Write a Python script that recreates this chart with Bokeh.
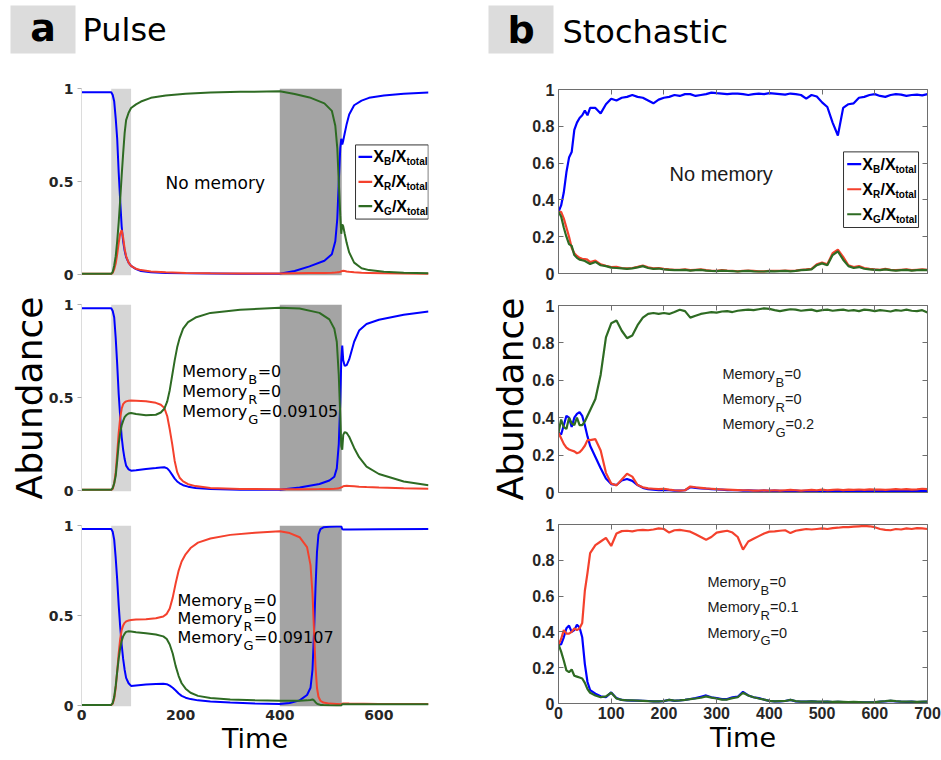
import math
from bokeh.plotting import figure
from bokeh.layouts import column, row
from bokeh.models import Range1d, FixedTicker, NumeralTickFormatter, CustomJSTickFormatter, LinearAxis
from bokeh.core.properties import value
from bokeh.embed import file_html
from bokeh.resources import INLINE

BLUE = "#0000ff"
RED = "#f4412d"
GREEN = "#2e6b23"
LIGHT_BAND = "#d6d6d6"
DARK_BAND = "#a4a4a4"
FRAME = "#6e6e6e"
TICKTXT = "#262626"

# ---------------- data: panel a (Pulse, deterministic) ----------------
pulse_light = [60, 100]
pulse_dark = [400, 525]

a1_t = [0, 60, 63, 66, 69, 72, 75, 78, 81, 84, 87, 90, 95, 100, 110, 120, 140, 170, 210, 260, 320, 400,
        430, 460, 490, 505, 512, 516, 519, 522, 524, 526, 528, 531, 535, 540, 550, 565, 580, 610, 650, 700]
a1_blue = [0.98, 0.98, 0.965, 0.93, 0.84, 0.73, 0.55, 0.40, 0.26, 0.18, 0.13, 0.095, 0.065, 0.048, 0.03, 0.02,
           0.013, 0.01, 0.008, 0.007, 0.006, 0.006, 0.02, 0.045, 0.075, 0.11, 0.18, 0.30, 0.50, 0.68, 0.73,
           0.70, 0.72, 0.76, 0.81, 0.86, 0.91, 0.935, 0.95, 0.962, 0.972, 0.978]
a1_red = [0.005, 0.005, 0.01, 0.03, 0.06, 0.11, 0.17, 0.22, 0.24, 0.20, 0.14, 0.10, 0.065, 0.048, 0.032, 0.025,
          0.018, 0.013, 0.01, 0.008, 0.007, 0.007, 0.008, 0.009, 0.01, 0.011, 0.012, 0.013, 0.014, 0.016, 0.018,
          0.02, 0.021, 0.02, 0.018, 0.016, 0.013, 0.011, 0.01, 0.008, 0.007, 0.006]
a1_green = [0.005, 0.005, 0.015, 0.05, 0.10, 0.18, 0.28, 0.40, 0.53, 0.65, 0.76, 0.83, 0.87, 0.895, 0.915, 0.93,
            0.95, 0.963, 0.972, 0.978, 0.982, 0.985, 0.97, 0.952, 0.92, 0.88, 0.80, 0.68, 0.50, 0.32, 0.22,
            0.27, 0.26, 0.22, 0.17, 0.12, 0.065, 0.035, 0.025, 0.016, 0.011, 0.008]

a2_t = [0, 60, 63, 66, 69, 72, 75, 78, 81, 84, 87, 90, 95, 100, 110, 130, 150, 160, 167, 173, 178, 183, 188,
        193, 198, 205, 215, 230, 260, 320, 400, 440, 480, 500, 510, 515, 519, 522, 524, 526, 528, 531, 535,
        540, 550, 560, 575, 600, 650, 700]
a2_blue = [0.98, 0.98, 0.965, 0.93, 0.82, 0.68, 0.52, 0.40, 0.29, 0.22, 0.17, 0.135, 0.115, 0.108, 0.11, 0.117,
           0.122, 0.125, 0.126, 0.12, 0.105, 0.085, 0.065, 0.05, 0.04, 0.03, 0.022, 0.015, 0.01, 0.006, 0.005,
           0.018, 0.036, 0.055, 0.075, 0.12, 0.25, 0.48, 0.70, 0.78, 0.70, 0.67, 0.675, 0.705, 0.80, 0.86,
           0.895, 0.918, 0.945, 0.962]
a2_red = [0.005, 0.005, 0.01, 0.04, 0.10, 0.20, 0.31, 0.39, 0.44, 0.465, 0.475, 0.48, 0.483, 0.484, 0.483, 0.48,
          0.472, 0.462, 0.445, 0.40, 0.33, 0.25, 0.16, 0.10, 0.07, 0.05, 0.035, 0.025, 0.015, 0.01, 0.008,
          0.008, 0.009, 0.01, 0.011, 0.012, 0.014, 0.016, 0.018, 0.02, 0.024, 0.026, 0.027, 0.026, 0.024,
          0.022, 0.02, 0.017, 0.013, 0.011]
a2_green = [0.005, 0.005, 0.015, 0.04, 0.08, 0.16, 0.25, 0.31, 0.35, 0.375, 0.395, 0.405, 0.415, 0.418, 0.412,
            0.405, 0.408, 0.42, 0.44, 0.48, 0.54, 0.62, 0.70, 0.77, 0.82, 0.87, 0.905, 0.93, 0.955, 0.972,
            0.982, 0.978, 0.955, 0.92, 0.87, 0.80, 0.62, 0.40, 0.24, 0.22, 0.30, 0.315, 0.31, 0.29, 0.23,
            0.18, 0.13, 0.09, 0.05, 0.03]

a3_t = [0, 60, 63, 66, 69, 72, 75, 78, 81, 84, 87, 90, 95, 100, 110, 130, 150, 165, 172, 178, 184, 190, 196,
        202, 210, 220, 235, 260, 300, 350, 400, 420, 440, 455, 462, 466, 469, 472, 475, 478, 482, 488, 500,
        515, 524, 526, 528, 531, 540, 600, 700]
a3_blue = [0.98, 0.98, 0.965, 0.92, 0.82, 0.70, 0.56, 0.44, 0.34, 0.26, 0.20, 0.155, 0.125, 0.11,
           0.113, 0.118, 0.121, 0.122, 0.12, 0.112, 0.10, 0.085, 0.068, 0.055,
           0.045, 0.037, 0.03, 0.024, 0.018, 0.013, 0.01, 0.015, 0.03, 0.06,
           0.10, 0.20, 0.40, 0.65, 0.85, 0.95, 0.98, 0.99, 0.993, 0.995,
           0.995, 0.98, 0.978, 0.978, 0.978, 0.979, 0.98]
a3_red = [0.005, 0.005, 0.012, 0.04, 0.10, 0.19, 0.29, 0.37, 0.42, 0.445, 0.46, 0.468, 0.473, 0.476,
          0.478, 0.48, 0.485, 0.495, 0.51, 0.54, 0.60, 0.68, 0.75, 0.80,
          0.84, 0.875, 0.905, 0.928, 0.948, 0.96, 0.968, 0.958, 0.935, 0.88,
          0.78, 0.62, 0.42, 0.22, 0.10, 0.05, 0.028, 0.018, 0.012, 0.01,
          0.008, 0.012, 0.013, 0.013, 0.012, 0.01, 0.01]
a3_green = [0.005, 0.005, 0.015, 0.05, 0.11, 0.19, 0.26, 0.32, 0.36, 0.385, 0.40, 0.41, 0.413, 0.412,
            0.408, 0.402, 0.395, 0.385, 0.37, 0.34, 0.29, 0.22, 0.165, 0.125,
            0.095, 0.072, 0.055, 0.043, 0.035, 0.03, 0.028, 0.028, 0.028, 0.03,
            0.032, 0.035, 0.03, 0.02, 0.012, 0.008, 0.005, 0.004, 0.003, 0.002,
            0.002, 0.008, 0.009, 0.009, 0.009, 0.008, 0.008]

# ---------------- data: panel b (Stochastic) ----------------
b_t = list(range(0, 60, 5)) + list(range(60, 701, 10))

b1_blue = [0.335, 0.37, 0.44, 0.55, 0.63, 0.66, 0.78, 0.82, 0.845, 0.86, 0.885, 0.86,
           0.90, 0.90, 0.87, 0.92, 0.95,
           0.94, 0.955, 0.96, 0.97, 0.96, 0.955, 0.94, 0.925, 0.945, 0.955,
           0.96, 0.97, 0.965, 0.975, 0.975, 0.965, 0.97, 0.975, 0.983, 0.98,
           0.978, 0.975, 0.978, 0.978, 0.975, 0.97, 0.975, 0.978, 0.975, 0.98,
           0.978, 0.975, 0.972, 0.978, 0.975, 0.97, 0.95, 0.97, 0.962, 0.93,
           0.905, 0.82, 0.75, 0.90, 0.92, 0.925, 0.955, 0.96, 0.97, 0.975,
           0.965, 0.96, 0.97, 0.975, 0.972, 0.965, 0.97, 0.972, 0.968, 0.975]
b1_red = [0.335, 0.335, 0.30, 0.25, 0.20, 0.14, 0.11, 0.095, 0.085, 0.08, 0.078, 0.075,
          0.062, 0.07, 0.05, 0.042, 0.035,
          0.036, 0.03, 0.028, 0.03, 0.036, 0.043, 0.034, 0.028, 0.03, 0.025,
          0.022, 0.02, 0.02, 0.022, 0.018, 0.02, 0.022, 0.018, 0.015, 0.015,
          0.018, 0.016, 0.015, 0.012, 0.015, 0.016, 0.014, 0.012, 0.012, 0.015,
          0.014, 0.015, 0.016, 0.014, 0.016, 0.02, 0.022, 0.025, 0.05, 0.06,
          0.05, 0.11, 0.13, 0.09, 0.045, 0.035, 0.04, 0.03, 0.025, 0.022,
          0.02, 0.025, 0.02, 0.018, 0.02, 0.022, 0.018, 0.02, 0.022, 0.02]
b1_green = [0.335, 0.31, 0.25, 0.20, 0.16, 0.15, 0.10, 0.085, 0.075, 0.072, 0.068, 0.06,
            0.052, 0.063, 0.045, 0.04, 0.032,
            0.03, 0.028, 0.025, 0.028, 0.033, 0.04, 0.03, 0.025, 0.027, 0.022,
            0.02, 0.018, 0.018, 0.02, 0.016, 0.018, 0.02, 0.016, 0.014, 0.013,
            0.016, 0.014, 0.013, 0.011, 0.013, 0.014, 0.012, 0.011, 0.011, 0.013,
            0.012, 0.013, 0.014, 0.012, 0.014, 0.018, 0.02, 0.022, 0.045, 0.055,
            0.045, 0.10, 0.12, 0.075, 0.04, 0.03, 0.035, 0.026, 0.022, 0.02,
            0.018, 0.022, 0.018, 0.016, 0.018, 0.02, 0.016, 0.018, 0.02, 0.018]

b2_blue = [0.32, 0.31, 0.36, 0.41, 0.40, 0.35, 0.40, 0.42, 0.43, 0.41, 0.36, 0.30,
           0.25, 0.19, 0.13, 0.075, 0.045,
           0.04, 0.064, 0.072, 0.062, 0.04, 0.025, 0.018, 0.015, 0.013, 0.012,
           0.012, 0.01, 0.01, 0.012, 0.028, 0.025, 0.022, 0.02, 0.018, 0.016,
           0.015, 0.013, 0.012, 0.012, 0.01, 0.011, 0.01, 0.009, 0.01, 0.009,
           0.01, 0.009, 0.008, 0.009, 0.01, 0.008, 0.009, 0.008, 0.007, 0.008,
           0.009, 0.008, 0.007, 0.008, 0.009, 0.008, 0.007, 0.008, 0.009, 0.008,
           0.007, 0.008, 0.009, 0.008, 0.007, 0.008, 0.009, 0.01, 0.008, 0.009]
b2_red = [0.32, 0.29, 0.26, 0.24, 0.23, 0.225, 0.22, 0.21, 0.215, 0.23, 0.25, 0.28,
          0.28, 0.285, 0.225, 0.105, 0.048,
          0.038, 0.07, 0.10, 0.085, 0.04, 0.028, 0.022, 0.02, 0.018, 0.02,
          0.015, 0.012, 0.01, 0.012, 0.032, 0.028, 0.025, 0.022, 0.02, 0.018,
          0.016, 0.015, 0.014, 0.013, 0.012, 0.012, 0.01, 0.01, 0.012, 0.01,
          0.012, 0.01, 0.012, 0.014, 0.012, 0.01, 0.012, 0.014, 0.012, 0.015,
          0.012, 0.014, 0.016, 0.013, 0.015, 0.014, 0.016, 0.014, 0.017, 0.015,
          0.016, 0.014, 0.016, 0.018, 0.016, 0.018, 0.015, 0.017, 0.02, 0.018]
b2_green = [0.32, 0.39, 0.35, 0.34, 0.40, 0.37, 0.36, 0.40, 0.36, 0.36, 0.38, 0.41,
            0.44, 0.50, 0.63, 0.83, 0.905,
            0.92, 0.865, 0.825, 0.84, 0.895, 0.935, 0.955, 0.96, 0.955, 0.96,
            0.955, 0.965, 0.977, 0.97, 0.935, 0.945, 0.955, 0.96, 0.965, 0.962,
            0.968, 0.97, 0.965, 0.972, 0.975, 0.978, 0.975, 0.98, 0.985, 0.982,
            0.975, 0.97, 0.975, 0.98, 0.978, 0.972, 0.975, 0.978, 0.97, 0.975,
            0.978, 0.972, 0.975, 0.978, 0.972, 0.975, 0.97, 0.978, 0.975, 0.97,
            0.975, 0.972, 0.968, 0.975, 0.972, 0.978, 0.972, 0.97, 0.975, 0.962]

b3_blue = [0.33, 0.33, 0.37, 0.42, 0.435, 0.40, 0.41, 0.44, 0.425, 0.37, 0.22, 0.12,
           0.075, 0.055, 0.04, 0.035, 0.062,
           0.03, 0.02, 0.018, 0.016, 0.016, 0.015, 0.014, 0.012, 0.012, 0.013,
           0.02, 0.015, 0.017, 0.02, 0.025, 0.03, 0.038, 0.045, 0.035, 0.03,
           0.025, 0.025, 0.035, 0.038, 0.065, 0.045, 0.035, 0.03, 0.022, 0.015,
           0.012, 0.012, 0.014, 0.02, 0.012, 0.01, 0.01, 0.012, 0.01, 0.009,
           0.01, 0.008, 0.009, 0.008, 0.007, 0.008, 0.007, 0.006, 0.006, 0.007,
           0.01, 0.012, 0.015, 0.012, 0.01, 0.009, 0.01, 0.008, 0.009, 0.01]
b3_red = [0.33, 0.36, 0.41, 0.39, 0.39, 0.40, 0.42, 0.41, 0.42, 0.45, 0.63, 0.73,
          0.84, 0.885, 0.905, 0.925, 0.88,
          0.95, 0.963, 0.965, 0.962, 0.968, 0.97, 0.968, 0.972, 0.978, 0.975,
          0.955, 0.968, 0.97, 0.965, 0.96, 0.945, 0.93, 0.915, 0.93, 0.955,
          0.96, 0.965, 0.955, 0.93, 0.86, 0.905, 0.92, 0.935, 0.95, 0.96,
          0.962, 0.965, 0.968, 0.952, 0.965, 0.97, 0.975, 0.972, 0.975, 0.978,
          0.975, 0.98, 0.982, 0.985, 0.985, 0.988, 0.99, 0.992, 0.99, 0.985,
          0.975, 0.97, 0.968, 0.975, 0.972, 0.978, 0.975, 0.98, 0.978, 0.975]
b3_green = [0.33, 0.29, 0.24, 0.185, 0.175, 0.19, 0.155, 0.15, 0.145, 0.14, 0.115, 0.08,
            0.06, 0.045, 0.035, 0.04, 0.06,
            0.028, 0.02, 0.018, 0.017, 0.016, 0.015, 0.013, 0.012, 0.012, 0.014,
            0.02, 0.016, 0.017, 0.02, 0.024, 0.028, 0.032, 0.04, 0.033, 0.028,
            0.022, 0.022, 0.03, 0.035, 0.06, 0.045, 0.035, 0.028, 0.022, 0.015,
            0.012, 0.013, 0.014, 0.02, 0.013, 0.011, 0.01, 0.012, 0.01, 0.01,
            0.01, 0.009, 0.01, 0.009, 0.008, 0.009, 0.008, 0.007, 0.007, 0.008,
            0.011, 0.013, 0.016, 0.013, 0.011, 0.01, 0.011, 0.009, 0.01, 0.011]

for t, *ss in [(a1_t, a1_blue, a1_red, a1_green), (a2_t, a2_blue, a2_red, a2_green),
               (a3_t, a3_blue, a3_red, a3_green), (b_t, b1_blue, b1_red, b1_green),
               (b_t, b2_blue, b2_red, b2_green), (b_t, b3_blue, b3_red, b3_green)]:
    for s in ss:
        assert len(s) == len(t), (len(s), len(t))

y_ticks_a = [0, 0.5, 1]
x_ticks_a = [0, 200, 400, 600]
y_ticks_b = [0, 0.2, 0.4, 0.6, 0.8, 1]
x_ticks_b = [0, 100, 200, 300, 400, 500, 600, 700]


def base_fig(width, height, left, right, top, bottom, y0=0.0):
    p = figure(width=width, height=height, x_range=Range1d(0, 700), y_range=Range1d(y0, 1),
               output_backend="svg", toolbar_location=None,
               min_border_left=left, min_border_right=right, min_border_top=top,
               min_border_bottom=bottom, background_fill_color="white",
               border_fill_color="white", outline_line_color=None)
    p.xgrid.visible = False
    p.ygrid.visible = False
    return p


def put(p, x, y, s, font, size, dx=0, dy=0, style="normal", color="black", align="left"):
    p.text(x=[x], y=[y], text=[s], x_offset=dx, y_offset=dy, text_font=value(font),
           text_font_size=value(size), text_font_style=style, text_color=color,
           text_align=align, text_baseline="middle")


def legend_box(p, box, line_x, rows_y, text_x, font):
    l, r, b, t = box
    p.quad(left=[l], right=[r], bottom=[b], top=[t], fill_color="white",
           line_color="#333333", line_width=1)
    cols = [BLUE, RED, GREEN]
    subs = ["B", "R", "G"]
    for yy, c, sb in zip(rows_y, cols, subs):
        p.segment(x0=[line_x[0]], y0=[yy], x1=[line_x[1]], y1=[yy], line_color=c, line_width=2.2)
        w = 8 if sb == "G" else 7.5
        put(p, text_x, yy, "X", font, "16px", 0, 0, "bold")
        put(p, text_x, yy, sb, font, "10px", 10.7, 5, "bold")
        put(p, text_x, yy, "/X", font, "16px", 10.7 + w, 0, "bold")
        put(p, text_x, yy, "total", font, "10px", 10.7 + w + 15, 5, "bold")


def memory_text(p, x, ys, vals, font, size, sub_size, sub_dx, eq_dx, sub_dy, color):
    for yy, (sb, v), edx in zip(ys, zip(["B", "R", "G"], vals), eq_dx):
        put(p, x, yy, "Memory", font, size, 0, 0, "normal", color)
        put(p, x, yy, sb, font, sub_size, sub_dx, sub_dy, "normal", color)
        put(p, x, yy, "=" + v, font, size, edx, 0, "normal", color)


def set_ylabel(ax, standoff):
    ax.axis_label = "Abundance"
    ax.axis_label_standoff = standoff
    ax.axis_label_text_font = "DejaVu Sans"
    ax.axis_label_text_font_style = "normal"
    ax.axis_label_text_font_size = "36px"
    ax.axis_label_text_color = "black"


# ---------------- left column (a) ----------------
def left_panel(height, top, bottom, t, b, r, g, show_x, ylabel=False):
    y0 = -0.004
    p = base_fig(470, height, 81, 42, top, bottom, y0=y0)
    p.quad(left=[pulse_light[0]], right=[pulse_light[1]], bottom=[y0], top=[1],
           fill_color=LIGHT_BAND, line_color=None)
    p.quad(left=[pulse_dark[0]], right=[pulse_dark[1]], bottom=[y0], top=[1],
           fill_color=DARK_BAND, line_color=None)
    p.line(t, b, line_color=BLUE, line_width=2)
    p.line(t, r, line_color=RED, line_width=2)
    p.line(t, g, line_color=GREEN, line_width=2)
    ya = p.yaxis[0]
    ya.ticker = FixedTicker(ticks=y_ticks_a)
    ya.formatter = NumeralTickFormatter(format="0.[0]")
    ya.axis_line_color = "#dcdcdc"
    ya.major_tick_line_color = "#b0b0b0"
    ya.major_tick_out = 4
    ya.major_tick_in = 0
    ya.minor_tick_line_color = None
    ya.major_label_standoff = 4
    ya.major_label_text_font = "DejaVu Sans"
    ya.major_label_text_font_style = "bold"
    ya.major_label_text_font_size = "14px"
    ya.major_label_text_color = TICKTXT
    if ylabel:
        set_ylabel(ya, -4)
    xa = p.xaxis[0]
    if show_x:
        xa.ticker = FixedTicker(ticks=x_ticks_a)
        xa.axis_line_color = None
        xa.major_tick_line_color = None
        xa.minor_tick_line_color = None
        xa.major_tick_out = 0
        xa.major_tick_in = 0
        xa.major_label_standoff = 3
        xa.major_label_text_font = "DejaVu Sans"
        xa.major_label_text_font_style = "bold"
        xa.major_label_text_font_size = "14px"
        xa.major_label_text_color = TICKTXT
        xa.axis_label = "Time"
        xa.axis_label_standoff = 0
        xa.axis_label_text_font = "DejaVu Sans"
        xa.axis_label_text_font_style = "normal"
        xa.axis_label_text_font_size = "27px"
        xa.axis_label_text_color = "black"
    else:
        xa.visible = False
    return p


A1 = left_panel(228, 26, 15, a1_t, a1_blue, a1_red, a1_green, False)
legend_box(A1, (552.8, 699.5, 0.299, 0.697), (558.8, 586.4), [0.633, 0.499, 0.369], 588.5,
           "Liberation Sans")
put(A1, 169.5, 0.492, "No memory", "DejaVu Sans", "17px")

A2 = left_panel(217, 14, 16, a2_t, a2_blue, a2_red, a2_green, False, ylabel=True)
memory_text(A2, 203.1, [0.638, 0.531, 0.424], ["0", "0", "0.09105"], "DejaVu Sans", "16px",
            "13px", 66, [75.5, 75.5, 76.5], 8, "black")

A3 = left_panel(253, 18, 54, a3_t, a3_blue, a3_red, a3_green, True)
memory_text(A3, 193.7, [0.583, 0.482, 0.380], ["0", "0", "0.09107"], "DejaVu Sans", "16px",
            "13px", 66, [75.5, 75.5, 76.5], 8, "black")


# ---------------- right column (b) ----------------
def style_frame_axis(ax, labels, font_size="16px"):
    ax.axis_line_color = FRAME
    ax.major_tick_line_color = FRAME
    ax.minor_tick_line_color = None
    ax.major_tick_in = 5
    ax.major_tick_out = 0
    if labels:
        ax.major_label_standoff = 4
        ax.major_label_text_font = "Liberation Sans"
        ax.major_label_text_font_style = "bold"
        ax.major_label_text_font_size = font_size
        ax.major_label_text_color = TICKTXT
    else:
        ax.formatter = CustomJSTickFormatter(code="return ''")
        ax.major_label_standoff = 0
        ax.major_label_text_font_size = "1px"


def right_panel(height, top, bottom, b, r, g, show_x, ylabel=False):
    p = base_fig(471, height, 88, 14, top, bottom)
    p.line(b_t, b, line_color=BLUE, line_width=2.2)
    p.line(b_t, r, line_color=RED, line_width=2.2)
    p.line(b_t, g, line_color=GREEN, line_width=2.2)
    ya = p.yaxis[0]
    ya.ticker = FixedTicker(ticks=y_ticks_b)
    ya.formatter = NumeralTickFormatter(format="0.[0]")
    style_frame_axis(ya, True)
    if ylabel:
        set_ylabel(ya, -2)
    xa = p.xaxis[0]
    xa.ticker = FixedTicker(ticks=x_ticks_b)
    style_frame_axis(xa, show_x)
    if show_x:
        xa.major_label_standoff = 3
        xa.axis_label = "Time"
        xa.axis_label_standoff = 0
        xa.axis_label_text_font = "DejaVu Sans"
        xa.axis_label_text_font_style = "normal"
        xa.axis_label_text_font_size = "27px"
        xa.axis_label_text_color = "black"
    top_ax = LinearAxis(ticker=FixedTicker(ticks=x_ticks_b))
    style_frame_axis(top_ax, False)
    p.add_layout(top_ax, "above")
    right_ax = LinearAxis(ticker=FixedTicker(ticks=y_ticks_b))
    style_frame_axis(right_ax, False)
    p.add_layout(right_ax, "right")
    return p


B1 = right_panel(228, 27, 17, b1_blue, b1_red, b1_green, False)
legend_box(B1, (540.7, 683.0, 0.25, 0.661), (547.7, 574.3), [0.594, 0.458, 0.322], 576.2,
           "Liberation Sans")
put(B1, 210.6, 0.543, "No memory", "Liberation Sans", "20px", color="#1a1a1a")

B2 = right_panel(217, 15, 15, b2_blue, b2_red, b2_green, False, ylabel=True)
memory_text(B2, 311.0, [0.632, 0.498, 0.365], ["0", "0", "0.2"], "Liberation Sans", "14.5px",
            "13px", 53, [62, 62.5, 63], 8, "#1a1a1a")

B3 = right_panel(253, 17, 57, b3_blue, b3_red, b3_green, True)
memory_text(B3, 282.7, [0.678, 0.538, 0.395], ["0", "0.1", "0"], "Liberation Sans", "14.5px",
            "13px", 53, [62, 62.5, 63], 8, "#1a1a1a")


# ---------------- header ----------------
header = figure(width=941, height=62, x_range=Range1d(0, 941), y_range=Range1d(0, 62),
                x_axis_type=None, y_axis_type=None, output_backend="svg", toolbar_location=None,
                min_border=0, outline_line_color=None, background_fill_color="white",
                border_fill_color="white")
header.xgrid.visible = False
header.ygrid.visible = False
header.quad(left=[10, 488], right=[75, 553], bottom=[9, 9], top=[57, 57],
            fill_color="#dcdcdc", line_color=None)
put(header, 42.5, 35, "a", "DejaVu Sans", "38px", style="bold", align="center")
put(header, 82, 32.5, "Pulse", "DejaVu Sans", "32px")
put(header, 520.5, 33, "b", "DejaVu Sans", "38px", style="bold", align="center")
put(header, 562, 30.5, "Stochastic", "DejaVu Sans", "32px")

layout = column(header, row(column(A1, A2, A3), column(B1, B2, B3)))

open("out.html", "w").write(file_html(layout, INLINE))
